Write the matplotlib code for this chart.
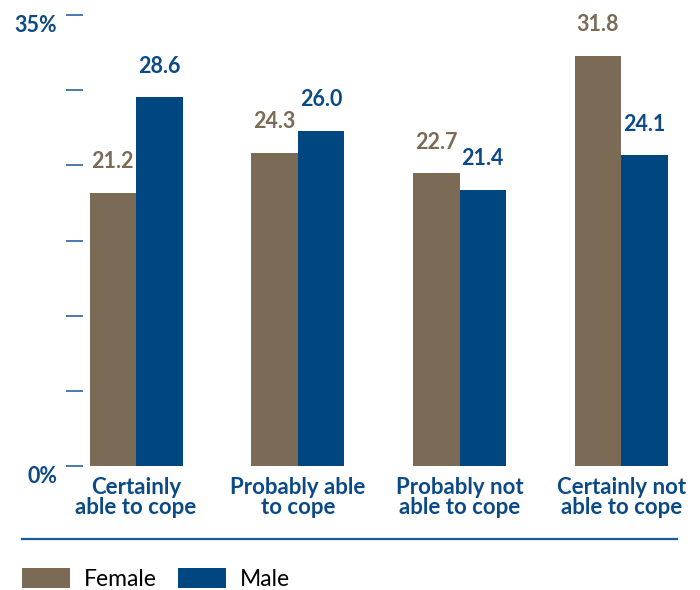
import numpy as np
import matplotlib.pyplot as plt
from matplotlib.lines import Line2D

plt.rcParams['font.family'] = ['Lato', 'DejaVu Sans']

# data
categories = ['Certainly\nable to cope', 'Probably able\nto cope',
              'Probably not\nable to cope', 'Certainly not\nable to cope']
female = [21.2, 24.3, 22.7, 31.8]
male = [28.6, 26.0, 21.4, 24.1]
ytick_vals = np.linspace(0, 35, 7)
ytick_labels = ['0%', '', '', '', '', '', '35%']

brown = '#7a6a56'
blue = '#004680'
text_blue = '#0b4a86'

fig = plt.figure(figsize=(7, 5.9), dpi=100)
ax = fig.add_axes([83 / 700, 1 - 466 / 590, 603 / 700, (466 - 15) / 590])

x = np.arange(len(categories))
w = 0.2875
b1 = ax.bar(x - w / 2, female, w, color=brown, label='Female')
b2 = ax.bar(x + w / 2, male, w, color=blue, label='Male')

for bars, vals, col in [(b1, female, brown), (b2, male, text_blue)]:
    for r, v in zip(bars, vals):
        ax.annotate(f'{v:.1f}', (r.get_x() + r.get_width() / 2, v),
                    xytext=(0, 15), textcoords='offset points',
                    ha='center', va='bottom', fontsize=15.5,
                    fontweight='bold', color=col)

ax.set_xlim(-0.328, 3.4)
ax.set_ylim(0, 35)
ax.set_xticks(x)
ax.set_xticklabels(categories, fontsize=16, fontweight='bold',
                   color=text_blue, linespacing=0.95)
ax.tick_params(axis='x', length=0, pad=8)
ax.set_yticks(ytick_vals)
ax.set_yticklabels(ytick_labels, fontsize=15.5, fontweight='bold', color=text_blue)
ax.tick_params(axis='y', length=12.5, width=1.2, color='#2a65a0', pad=6)
for lab in ax.get_yticklabels():
    lab.set_va('top')
for s in ax.spines.values():
    s.set_visible(False)

# divider line above the legend
fig.add_artist(Line2D([21.5 / 700, 677 / 700], [1 - 539 / 590, 1 - 539 / 590],
                      color='#1d5b98', lw=1.6, transform=fig.transFigure))

fig.legend(handles=[b1, b2], loc='center left',
           bbox_to_anchor=(21.5 / 700, 1 - 579 / 590), ncol=2, frameon=False,
           fontsize=16.5, handlelength=2.1, handleheight=1.0,
           handletextpad=0.6, columnspacing=0.95, borderpad=0,
           borderaxespad=0)

fig.savefig('out.png', dpi=100)
